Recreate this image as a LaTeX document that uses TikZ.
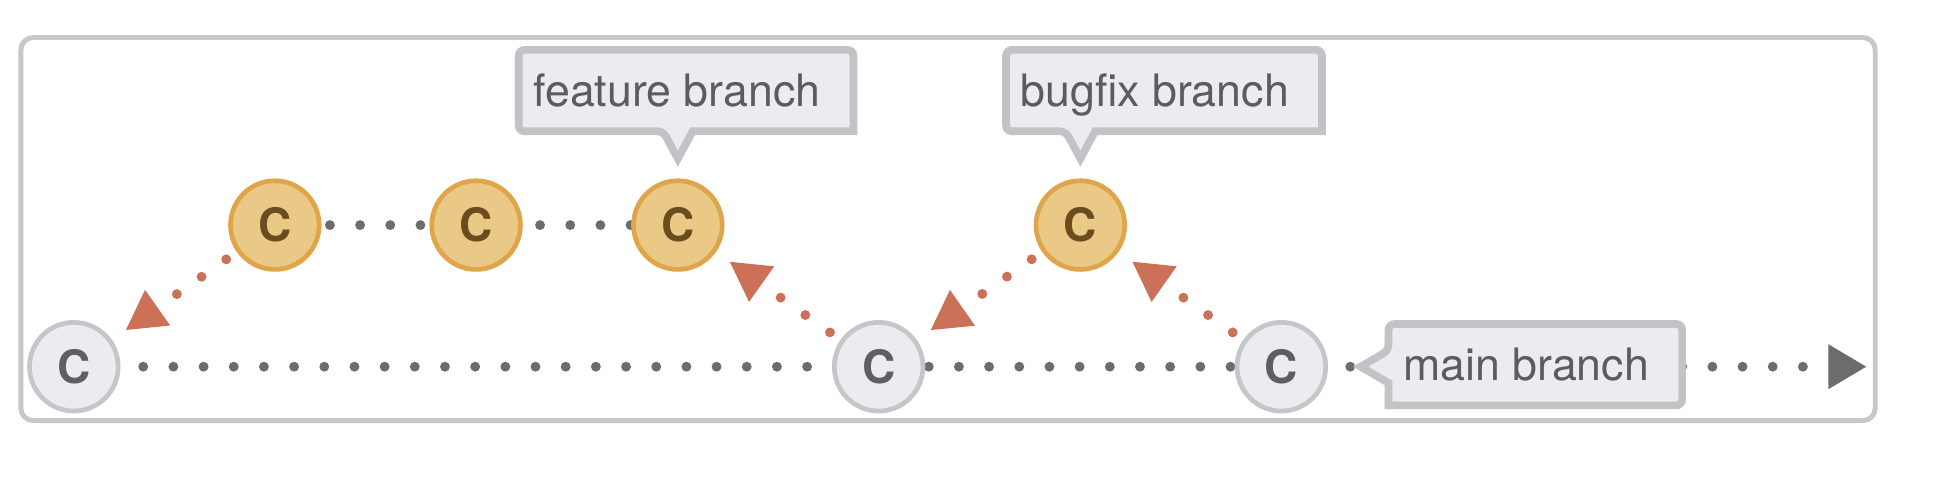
\documentclass[tikz,border=0pt]{standalone}
\usepackage{fontspec}
\setmainfont{TeX Gyre Heros}
\usepackage{tikz}
\usetikzlibrary{
    arrows.meta,
    backgrounds
}
\definecolor{framegrey}{RGB}{200,200,200}
\definecolor{mainfill}{RGB}{235,236,240}
\definecolor{mainedge}{RGB}{196,198,202}
\definecolor{maintext}{RGB}{94,95,99}
\definecolor{featfill}{RGB}{233,201,133}
\definecolor{featedge}{RGB}{224,165,75}
\definecolor{feattext}{RGB}{107,76,31}
\definecolor{labelfill}{RGB}{235,236,240}
\definecolor{labeledge}{RGB}{193,195,199}
\definecolor{labeltext}{RGB}{91,92,96}
\definecolor{dotgrey}{RGB}{108,108,108}
\definecolor{parentred}{RGB}{204,112,88}

\begin{document}
\begin{tikzpicture}[
    commit/.style={circle, line width=0.095cm, minimum size=1.795cm, inner sep=0pt,
        font=\fontsize{26.5}{30}\selectfont\bfseries},
    maincommit/.style={commit, fill=mainfill, draw=mainedge, text=maintext},
    branchcommit/.style={commit, fill=featfill, draw=featedge, text=feattext},
    branchlabel/.style={anchor=west, text=labeltext, outer sep=0pt,
        minimum height=1.6475cm, inner xsep=0.2975cm, inner ysep=0pt,
        text height=18.5pt, text depth=0pt,
        font=\fontsize{25.75}{30}\selectfont,
        execute at end node={\hspace{0.375cm}}},
    labelbox/.style={fill=labelfill, draw=labeledge, line width=0.155cm, line join=miter},
    mainline/.style={draw=dotgrey, line width=0.2cm, line cap=round,
        dash pattern=on 0pt off 0.611cm},
    parentlink/.style={draw=parentred, line width=0.2cm, line cap=round,
        dash pattern=on 0pt off 0.611cm, shorten <=0.26cm, shorten >=0.33cm,
        -{Triangle[length=0.8cm, width=0.82cm]}}
]
    \useasboundingbox (0,0) rectangle (39.2,9.64);

    % Frame
    \draw[draw=framegrey, line width=0.1cm, rounded corners=0.25cm]
        (0.4225,1.125) rectangle (37.97,8.88);

    % Main branch commits
    \node[maincommit] (base) at (1.495,2.215) {C};
    \node[maincommit] (merge1) at (17.79,2.215) {C};
    \node[maincommit] (merge2) at (25.945,2.215) {C};

    % Feature branch commits
    \node[branchcommit] (feat1) at (5.565,5.0825) {C};
    \node[branchcommit] (feat2) at (9.64,5.0825) {C};
    \node[branchcommit] (feat3) at (13.725,5.0825) {C};

    % Bugfix branch commit
    \node[branchcommit] (fix1) at (21.875,5.0825) {C};

    % Branch labels
    \node[branchlabel] (featlabel) at (10.5025,7.806) {feature branch};
    \node[branchlabel] (fixlabel) at (20.37,7.806) {bugfix branch};
    \node[branchlabel] (mainlabel) at (28.115,2.255) {main branch};

    % Pointer tips
    \coordinate (feattip) at ([yshift=0.4cm]feat3.north);
    \coordinate (featbase) at (feattip |- featlabel.south);
    \coordinate (fixtip) at ([yshift=0.4cm]fix1.north);
    \coordinate (fixbase) at (fixtip |- fixlabel.south);
    \coordinate (maintip) at ([xshift=0.66cm]merge2.east);
    \coordinate (mainbase) at (maintip -| mainlabel.west);
    \coordinate (mainend) at (37.8,2.215);

    \begin{scope}[on background layer]
        \fill[white] (0,0) rectangle (39.2,9.64);

        % Main history
        \draw[mainline, shorten <=0.46cm, shorten >=0.49cm] (base) -- (merge1);
        \draw[mainline, shorten <=0.07cm, shorten >=0.07cm] (merge1) -- (merge2);
        \draw[mainline, shorten <=0.45cm, -{Triangle[length=0.78cm, width=0.85cm]}]
            (merge2) -- (mainend);

        % Feature history
        \draw[mainline, shorten <=0.17cm, shorten >=0.17cm] (feat1) -- (feat2);
        \draw[mainline, shorten <=0.35cm] (feat2) -- (feat3);

        % Parent links
        \draw[parentlink] (feat1) -- (base);
        \draw[parentlink] (merge1) -- (feat3);
        \draw[parentlink] (fix1) -- (merge1);
        \draw[parentlink] (merge2) -- (fix1);

        % Label boxes
        \filldraw[labelbox] ([xshift=-0.3cm]featbase) -- (feattip)
            -- ([xshift=0.3cm]featbase) -- (featlabel.south east)
            [rounded corners=0.12cm] -- (featlabel.north east)
            -- (featlabel.north west) -- (featlabel.south west) -- cycle;
        \filldraw[labelbox] ([xshift=-0.3cm]fixbase) -- (fixtip)
            -- ([xshift=0.3cm]fixbase) -- (fixlabel.south east)
            [rounded corners=0.12cm] -- (fixlabel.north east)
            -- (fixlabel.north west) -- (fixlabel.south west) -- cycle;
        \filldraw[labelbox] ([yshift=0.33cm]mainbase) -- (maintip)
            -- ([yshift=-0.33cm]mainbase) -- (mainlabel.south west)
            [rounded corners=0.12cm] -- (mainlabel.south east)
            -- (mainlabel.north east) -- (mainlabel.north west) -- cycle;
    \end{scope}
\end{tikzpicture}
\end{document}
